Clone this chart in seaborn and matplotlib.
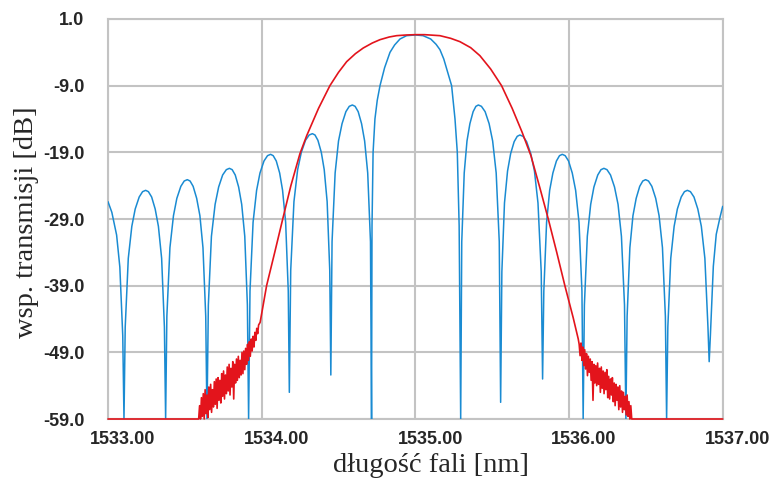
import matplotlib
matplotlib.use("Agg")
import matplotlib.pyplot as plt
import matplotlib.transforms as mtransforms
import seaborn as sns

# x ticks / y ticks as shown on the chart
x_ticks = [1533.0, 1534.0, 1535.0, 1536.0, 1537.0]
x_tick_labels = ["1533.00", "1534.00", "1535.00", "1536.00", "1537.00"]
y_ticks = [1.0, -9.0, -19.0, -29.0, -39.0, -49.0, -59.0]
y_tick_labels = ["1.0", "-9.0", "-19.0", "-29.0", "-39.0", "-49.0", "-59.0"]

# blue curve: uniform grating (arch by arch)
blue_x = [
    1533.000, 1533.025, 1533.056, 1533.077, 1533.096, 1533.104,
    1533.112, 1533.132, 1533.155, 1533.177, 1533.203, 1533.225, 1533.245,
    1533.263, 1533.284, 1533.307, 1533.328, 1533.349, 1533.367, 1533.375,
    1533.383, 1533.403, 1533.426, 1533.448, 1533.474, 1533.496, 1533.516,
    1533.534, 1533.554, 1533.577, 1533.598, 1533.618, 1533.636, 1533.644,
    1533.653, 1533.673, 1533.697, 1533.720, 1533.746, 1533.770, 1533.790,
    1533.808, 1533.828, 1533.850, 1533.870, 1533.890, 1533.907, 1533.915,
    1533.924, 1533.944, 1533.967, 1533.989, 1534.015, 1534.038, 1534.058,
    1534.075, 1534.095, 1534.117, 1534.136, 1534.156, 1534.173, 1534.180,
    1534.189, 1534.210, 1534.234, 1534.258, 1534.285, 1534.309, 1534.330,
    1534.347, 1534.366, 1534.388, 1534.407, 1534.426, 1534.443, 1534.450,
    1534.458, 1534.478, 1534.500, 1534.523, 1534.548, 1534.570, 1534.590,
    1534.608, 1534.628, 1534.650, 1534.670, 1534.690, 1534.708, 1534.715,
    1534.718, 1534.725, 1534.737, 1534.752, 1534.770, 1534.800, 1534.835, 1534.865, 1534.900, 1534.943,
    1535.000,
    1535.050, 1535.100, 1535.135, 1535.160, 1535.185, 1535.204, 1535.236, 1535.258, 1535.273, 1535.285,
    1535.295,
    1535.302, 1535.318, 1535.336, 1535.355, 1535.376, 1535.394, 1535.410,
    1535.430, 1535.454, 1535.480, 1535.503, 1535.526, 1535.546, 1535.555,
    1535.563, 1535.580, 1535.600, 1535.620, 1535.643, 1535.663, 1535.680,
    1535.701, 1535.724, 1535.751, 1535.775, 1535.798, 1535.819, 1535.828,
    1535.836, 1535.854, 1535.874, 1535.895, 1535.918, 1535.938, 1535.956,
    1535.975, 1535.997, 1536.021, 1536.043, 1536.065, 1536.084, 1536.092,
    1536.100, 1536.119, 1536.141, 1536.162, 1536.187, 1536.208, 1536.227,
    1536.247, 1536.270, 1536.296, 1536.319, 1536.341, 1536.361, 1536.370,
    1536.378, 1536.396, 1536.416, 1536.437, 1536.460, 1536.480, 1536.498,
    1536.517, 1536.539, 1536.564, 1536.586, 1536.608, 1536.627, 1536.635,
    1536.643, 1536.662, 1536.684, 1536.705, 1536.730, 1536.751, 1536.770,
    1536.790, 1536.813, 1536.838, 1536.861, 1536.884, 1536.904, 1536.912,
    1536.920, 1536.939, 1536.958, 1536.983, 1537.000,
]
blue_y = [
    -26.4, -28.0, -31.4, -36.2, -46.5, -59.0,
    -45.2, -34.9, -30.1, -27.5, -25.7, -24.9, -24.7,
    -24.9, -25.7, -27.5, -30.1, -34.9, -45.2, -59.0,
    -43.6, -33.3, -28.5, -25.9, -24.1, -23.3, -23.1,
    -23.3, -24.1, -25.9, -28.5, -33.3, -43.6, -59.0,
    -41.9, -31.6, -26.8, -24.2, -22.4, -21.6, -21.4,
    -21.6, -22.4, -24.2, -26.8, -31.6, -41.9, -59.0,
    -39.8, -29.5, -24.7, -22.1, -20.3, -19.5, -19.3,
    -19.5, -20.3, -22.1, -24.7, -29.5, -39.8, -55.0,
    -36.7, -26.4, -21.6, -19.0, -17.2, -16.4, -16.2,
    -16.4, -17.2, -19.0, -21.6, -26.4, -36.7, -52.4,
    -32.4, -22.1, -17.3, -14.7, -12.9, -12.1, -11.9,
    -12.1, -12.9, -14.7, -17.3, -22.1, -32.4, -59.0,
    -30.0, -19.0, -14.0, -11.2, -9.0, -6.3, -4.0, -2.9, -2.0, -1.5,
    -1.4,
    -1.5, -2.0, -2.8, -3.6, -5.0, -6.5, -9.0, -14.0, -19.0, -30.0,
    -59.0,
    -32.4, -22.1, -17.3, -14.7, -12.9, -12.1, -11.9,
    -12.1, -12.9, -14.7, -17.3, -22.1, -32.4, -56.5,
    -36.9, -26.6, -21.8, -19.2, -17.4, -16.6, -16.4,
    -16.6, -17.4, -19.2, -21.8, -26.6, -36.9, -53.0,
    -39.8, -29.5, -24.7, -22.1, -20.3, -19.5, -19.3,
    -19.5, -20.3, -22.1, -24.7, -29.5, -39.8, -59.0,
    -41.9, -31.6, -26.8, -24.2, -22.4, -21.6, -21.4,
    -21.6, -22.4, -24.2, -26.8, -31.6, -41.9, -59.0,
    -43.6, -33.3, -28.5, -25.9, -24.1, -23.3, -23.1,
    -23.3, -24.1, -25.9, -28.5, -33.3, -43.6, -59.0,
    -45.2, -34.9, -30.1, -27.5, -25.7, -24.9, -24.7,
    -24.9, -25.7, -27.5, -30.1, -34.9, -45.2, -50.4,
    -46.4, -36.1, -31.3, -28.7, -27.1,
]

# red curve: apodized grating, noisy skirts at the bottom
red_x = [
    1533.000, 1533.590,
    1533.596, 1533.602, 1533.608, 1533.614, 1533.620, 1533.626, 1533.632, 1533.638, 1533.644, 1533.650,
    1533.656, 1533.662, 1533.668, 1533.674, 1533.680, 1533.686, 1533.692, 1533.698, 1533.704, 1533.710,
    1533.716, 1533.722, 1533.728, 1533.734, 1533.740, 1533.746, 1533.752, 1533.758, 1533.764, 1533.770,
    1533.776, 1533.782, 1533.788, 1533.794, 1533.800, 1533.806, 1533.812, 1533.818, 1533.824, 1533.830,
    1533.836, 1533.842, 1533.848, 1533.854, 1533.860, 1533.866, 1533.872, 1533.878, 1533.884, 1533.890,
    1533.896, 1533.902, 1533.908, 1533.914, 1533.920, 1533.926, 1533.932, 1533.938, 1533.944, 1533.950,
    1533.956, 1533.962, 1533.968, 1533.974, 1533.980,
    1533.990, 1534.032, 1534.085, 1534.137, 1534.190, 1534.249, 1534.293, 1534.370, 1534.444, 1534.500,
    1534.553, 1534.610, 1534.661, 1534.720, 1534.770, 1534.830, 1534.878, 1534.940, 1535.000, 1535.060,
    1535.160, 1535.230, 1535.290, 1535.360, 1535.420, 1535.490, 1535.561, 1535.630, 1535.695, 1535.752,
    1535.810, 1535.865, 1535.920, 1535.973, 1536.027, 1536.060,
    1536.066, 1536.072, 1536.078, 1536.084, 1536.090, 1536.096, 1536.102, 1536.108, 1536.114, 1536.120,
    1536.126, 1536.132, 1536.138, 1536.144, 1536.150, 1536.156, 1536.162, 1536.168, 1536.174, 1536.180,
    1536.186, 1536.192, 1536.198, 1536.204, 1536.210, 1536.216, 1536.222, 1536.228, 1536.234, 1536.240,
    1536.246, 1536.252, 1536.258, 1536.264, 1536.270, 1536.276, 1536.282, 1536.288, 1536.294, 1536.300,
    1536.306, 1536.312, 1536.318, 1536.324, 1536.330, 1536.336, 1536.342, 1536.348, 1536.354, 1536.360,
    1536.366, 1536.372, 1536.378, 1536.384, 1536.390, 1536.396, 1536.402, 1536.408,
    1537.000,
]
red_y = [
    -59.0, -59.0,
    -57.0, -59.0, -55.8, -58.6, -55.2, -59.0, -54.6, -58.2, -55.4, -58.8,
    -54.2, -57.6, -53.8, -58.0, -54.6, -57.2, -53.4, -56.8, -53.0, -57.4,
    -52.8, -56.2, -53.2, -56.6, -52.2, -55.6, -51.8, -56.0, -52.4, -55.2,
    -51.2, -54.8, -50.8, -55.4, -51.4, -54.2, -50.4, -56.0, -50.8, -53.6,
    -50.0, -53.2, -49.6, -52.8, -50.2, -52.4, -49.0, -52.2, -48.8, -51.6,
    -48.4, -50.8, -47.8, -50.2, -47.4, -49.6, -47.0, -48.8, -46.6, -48.2,
    -46.0, -47.2, -45.4, -46.2, -44.9,
    -44.5, -39.0, -34.0, -29.0, -24.0, -19.2, -16.5, -12.4, -9.0, -7.0,
    -5.4, -4.2, -3.35, -2.6, -2.1, -1.7, -1.5, -1.4, -1.35, -1.35,
    -1.5, -1.9, -2.4, -3.3, -4.5, -6.5, -9.0, -12.4, -16.0, -19.5,
    -24.3, -29.0, -34.0, -39.0, -43.8, -47.0,
    -47.8, -49.5, -47.6, -50.2, -48.2, -51.0, -48.6, -51.5, -49.2, -52.5,
    -49.6, -52.0, -50.0, -53.2, -50.4, -56.2, -50.8, -53.6, -51.0, -54.0,
    -50.6, -53.8, -51.4, -55.0, -51.2, -54.4, -51.8, -55.2, -52.0, -54.6,
    -51.6, -55.8, -52.6, -56.0, -53.0, -55.4, -52.8, -56.4, -53.6, -57.0,
    -53.8, -56.2, -54.2, -57.6, -54.0, -57.2, -54.8, -58.0, -55.0, -57.6,
    -55.6, -58.4, -55.4, -58.6, -56.4, -59.0, -57.0, -59.0,
    -59.0,
]

sns.set_style("white")
plt.rcParams["font.family"] = ["Liberation Sans", "DejaVu Sans"]

fig = plt.figure(figsize=(7.75, 4.84), dpi=100)
ax = fig.add_axes([108 / 775, 65 / 484, 614.7 / 775, 400 / 484])

sns.lineplot(x=blue_x, y=blue_y, ax=ax, color="#1a8bd2", linewidth=1.1,
             estimator=None, sort=False, zorder=3)
sns.lineplot(x=red_x, y=red_y, ax=ax, color="#e3141c", linewidth=1.2,
             estimator=None, sort=False, zorder=4, clip_on=False)

ax.set_xlim(1533.0, 1537.0)
ax.set_ylim(-59.0, 1.0)
ax.set_xticks(x_ticks)
ax.set_xticklabels(x_tick_labels)
ax.set_yticks(y_ticks)
ax.set_yticklabels(y_tick_labels)

# grid + frame in light gray
ax.grid(True, color="#c3c3c3", linewidth=1.5)
ax.set_axisbelow(True)
for side in ax.spines.values():
    side.set_color("#c3c3c3")
    side.set_linewidth(1.5)

ax.tick_params(axis="both", length=0, labelsize=13)
ax.tick_params(axis="y", pad=17)
ax.tick_params(axis="x", pad=9)
for lab in ax.get_xticklabels() + ax.get_yticklabels():
    lab.set_fontweight("bold")

# x tick labels sit to the right of their grid lines
shift = mtransforms.ScaledTranslation(0.15, 0, fig.dpi_scale_trans)
for lab in ax.get_xticklabels():
    lab.set_transform(lab.get_transform() + shift)

ax.set_xlabel("długość fali [nm]", fontsize=20.5, family="Liberation Serif")
ax.set_ylabel("wsp. transmisji [dB]", fontsize=20.5, family="Liberation Serif")
ax.xaxis.set_label_coords(0.5255, -0.085)
ax.yaxis.set_label_coords(-0.112, 0.4925)

plt.savefig("out.png", dpi=100)
plt.close()
